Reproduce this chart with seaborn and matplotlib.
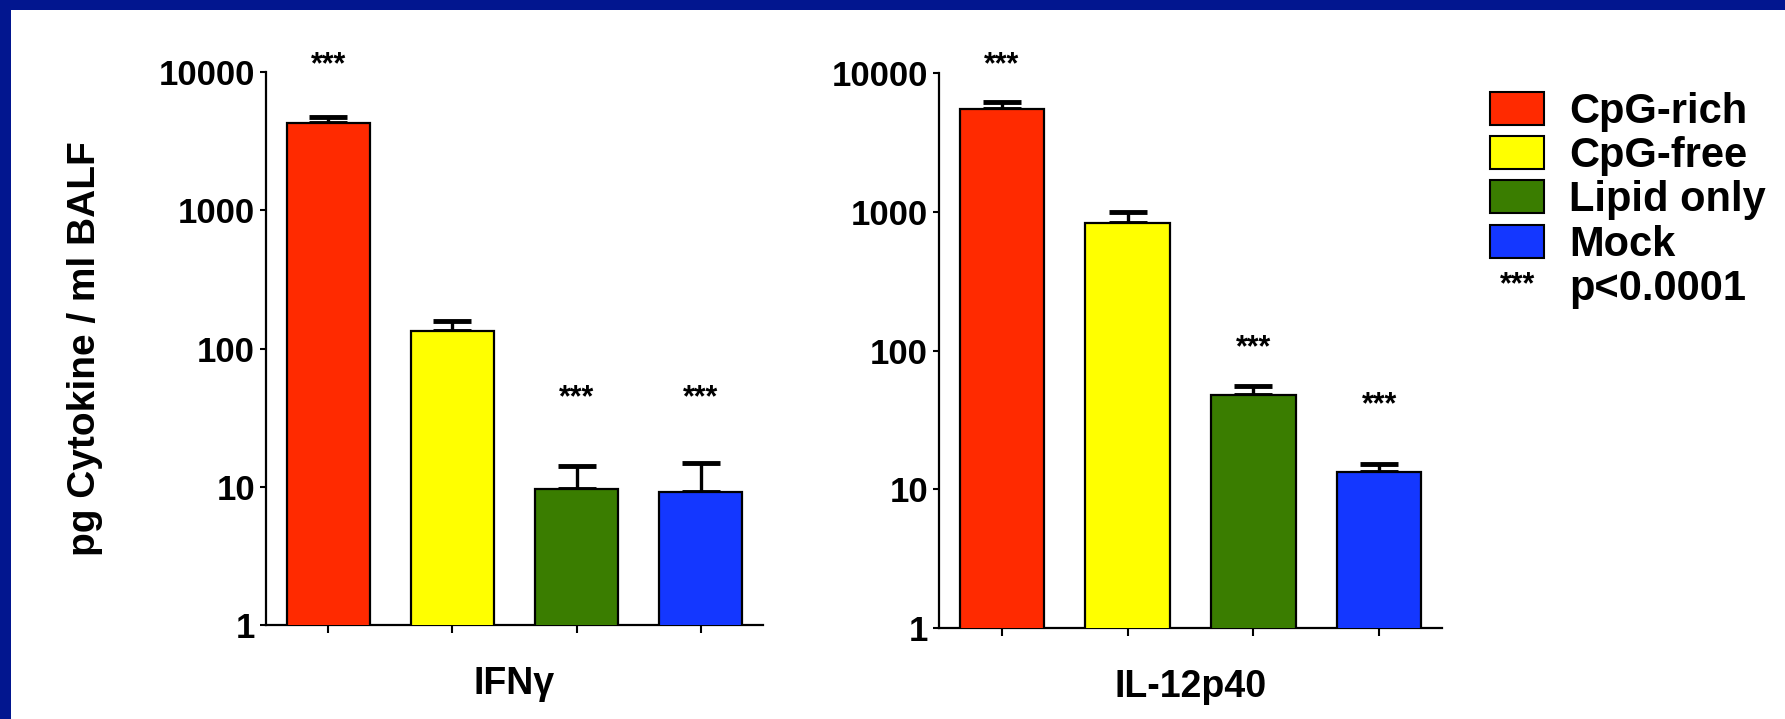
import numpy as np
import pandas as pd
import matplotlib
matplotlib.use("Agg")
import matplotlib.pyplot as plt
import seaborn as sns
from matplotlib.patches import Patch, Rectangle
from matplotlib.legend_handler import HandlerBase
from matplotlib.text import Text
from matplotlib.ticker import FixedLocator, FixedFormatter, NullLocator

# ---- data ----
groups = ["CpG-rich", "CpG-free", "Lipid only", "Mock"]
colors = ["#ff2a00", "#ffff00", "#3a7d00", "#1437ff"]
ifng_mean = [4300, 134, 9.6, 9.2]
ifng_sem = [450, 24, 4.5, 5.7]
il12_mean = [5500, 830, 48, 13.3]
il12_sem = [700, 165, 7.5, 1.8]
ifng_sig = [True, False, True, True]
il12_sig = [True, False, True, True]
ifng_star_y = [11200, None, 44, 44]
il12_star_y = [11400, None, 103, 40]
yticks = [1, 10, 100, 1000, 10000]
ytick_labels = ["1", "10", "100", "1000", "10000"]
panel_titles = ["IFN\u03b3", "IL-12p40"]
ylabel = "pg Cytokine / ml BALF"
sig_label = "p<0.0001"

sns.set_theme(style="white")
plt.rcParams["font.family"] = ["Liberation Sans", "DejaVu Sans"]
plt.rcParams["font.weight"] = "bold"
for k in ["text.color", "axes.labelcolor", "xtick.color", "ytick.color",
          "axes.edgecolor"]:
    plt.rcParams[k] = "black"

W, H = 1785, 719
fig = plt.figure(figsize=(W / 100, H / 100), dpi=100)
fig.patch.set_facecolor("#02168f")
bg = Rectangle((11 / W, 0), 1 - 11 / W, 1 - 10 / H,
               transform=fig.transFigure, facecolor="white",
               edgecolor="none", zorder=-10)
fig.add_artist(bg)

ax1 = fig.add_axes([266 / W, 94 / H, 497 / W, 553 / H])
ax2 = fig.add_axes([939 / W, 91 / H, 503 / W, 555 / H])

panels = [
    (ax1, ifng_mean, ifng_sem, ifng_sig, ifng_star_y, panel_titles[0]),
    (ax2, il12_mean, il12_sem, il12_sig, il12_star_y, panel_titles[1]),
]

for ax, means, sems, sig, star_y, title in panels:
    df = pd.DataFrame({"group": groups, "value": means})
    ax.set_facecolor("none")
    ax.set_yscale("log")
    sns.barplot(data=df, x="group", y="value", hue="group", palette=colors,
                order=groups, hue_order=groups, errorbar=None, width=0.67,
                saturation=1, edgecolor="black", linewidth=1.6, legend=False,
                ax=ax, zorder=3)
    xs = np.arange(len(groups))
    ax.errorbar(xs, means, yerr=[np.zeros(len(means)), sems], fmt="none",
                ecolor="black", elinewidth=2.4, capsize=14, capthick=3.5,
                zorder=2)
    for i, (s, sy) in enumerate(zip(sig, star_y)):
        if s:
            ax.text(xs[i], sy, "***", ha="center", va="center", fontsize=22,
                    fontweight="bold", color="black", clip_on=False)
    ax.set_ylim(1, 10000)
    ax.set_xlim(-0.5, 3.5)
    ax.yaxis.set_major_locator(FixedLocator(yticks))
    ax.yaxis.set_major_formatter(FixedFormatter(ytick_labels))
    ax.yaxis.set_minor_locator(NullLocator())
    ax.set_xticks(xs)
    ax.set_xticklabels([])
    ax.tick_params(axis="y", which="major", direction="out", length=4,
                   width=1.5, labelsize=25, pad=4, left=True, color="black")
    ax.tick_params(axis="x", direction="out", length=6, width=1.5,
                   bottom=True, color="black")
    for lab in ax.get_yticklabels():
        lab.set_fontweight("bold")
    for side in ["top", "right"]:
        ax.spines[side].set_visible(False)
    for side in ["left", "bottom"]:
        ax.spines[side].set_color("black")
        ax.spines[side].set_linewidth(1.6)
    ax.set_xlabel(title, fontsize=27, fontweight="bold", labelpad=20)
    ax.set_ylabel("")
    ax.grid(False)

ax1.set_ylabel(ylabel, fontsize=28, fontweight="bold", labelpad=40)


class StarHandler(HandlerBase):
    def create_artists(self, legend, orig_handle, xdescent, ydescent,
                       width, height, fontsize, trans):
        t = Text(x=width / 2 - xdescent, y=height / 2 - ydescent,
                 text="***", ha="center", va="center", fontsize=22,
                 fontweight="bold", color="black", transform=trans)
        return [t]


class StarToken:
    pass


handles = [Patch(facecolor=c, edgecolor="black", linewidth=1.5) for c in colors]
handles.append(StarToken())
labels = groups + [sig_label]
leg = fig.legend(handles, labels, loc="upper left",
                 bbox_to_anchor=(1490 / W, 1 - 92 / H),
                 frameon=False, prop={"size": 30, "weight": "bold"},
                 handlelength=1.3, handleheight=0.84, handletextpad=0.6,
                 labelspacing=0.1, borderaxespad=0, borderpad=0,
                 handler_map={StarToken: StarHandler()})

fig.savefig("out.png", dpi=100, facecolor=fig.get_facecolor())
